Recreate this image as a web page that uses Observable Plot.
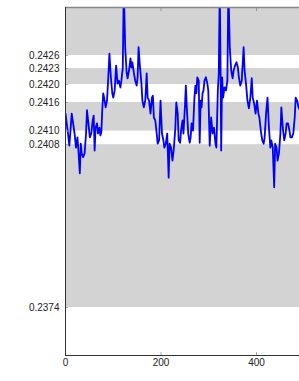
<!DOCTYPE html>
<html>
<head>
<meta charset="utf-8">
<script src="https://cdn.jsdelivr.net/npm/d3@7"></script>
<script src="https://cdn.jsdelivr.net/npm/@observablehq/plot@0.6"></script>
<style>
  html, body { margin: 0; padding: 0; background: #fff; overflow: hidden; }
  #chart svg { display: block; }
</style>
</head>
<body>
<div id="chart"></div>
<script>
// Series
const xs = [0,5,8,10,13,16,19,22,25,27,30,32,34,37,40,43,45,48,51,54,57,59,61,63,66,68,71,73,75,77,79,82,84,87,90,92,95,98,100,103,106,109,112,115,117,120,122,125,128,130,133,136,138,140,143,146,149,151,153,156,159,161,164,167,170,172,175,178,181,183,185,188,191,193,196,199,202,205,207,210,213,216,218,221,224,227,230,232,235,237,240,242,245,247,250,252,254,257,260,262,264,267,270,272,274,276,279,281,283,285,287,289,291,294,297,299,302,305,308,311,314,316,319,321,323,325,326,328,330,333,336,339,341,344,347,350,352,355,358,361,363,366,369,371,373,375,378,381,384,387,390,392,395,398,401,404,406,409,412,415,417,420,423,426,429,431,434,437,439,442,444,447,450,452,455,458,461,463,466,469,471,474,477,480,482,485,488,491];
const ys = [0.24140,0.24101,0.24074,0.24099,0.24140,0.24120,0.24099,0.24070,0.24091,0.24064,0.24017,0.24078,0.24058,0.24050,0.24058,0.24099,0.24147,0.24120,0.24091,0.24099,0.24126,0.24136,0.24064,0.24111,0.24120,0.24099,0.24111,0.24095,0.24101,0.24147,0.24182,0.24167,0.24153,0.24167,0.24223,0.24264,0.24215,0.24182,0.24173,0.24188,0.24239,0.24202,0.24208,0.24194,0.24208,0.24235,0.24404,0.24277,0.24225,0.24213,0.24229,0.24254,0.24235,0.24246,0.24225,0.24208,0.24198,0.24215,0.24277,0.24235,0.24202,0.24167,0.24153,0.24167,0.24223,0.24173,0.24167,0.24140,0.24173,0.24177,0.24132,0.24126,0.24099,0.24078,0.24085,0.24167,0.24099,0.24085,0.24070,0.24078,0.24099,0.24008,0.24078,0.24070,0.24043,0.24070,0.24111,0.24163,0.24140,0.24085,0.24080,0.24105,0.24126,0.24099,0.24153,0.24198,0.24153,0.24099,0.24080,0.24091,0.24120,0.24105,0.24173,0.24198,0.24182,0.24215,0.24208,0.24080,0.24167,0.24153,0.24182,0.24188,0.24208,0.24215,0.24202,0.24188,0.24074,0.24132,0.24099,0.24111,0.24078,0.24070,0.24188,0.24223,0.24404,0.24202,0.24064,0.24215,0.24173,0.24194,0.24188,0.24208,0.24404,0.24277,0.24229,0.24213,0.24229,0.24239,0.24246,0.24235,0.24215,0.24198,0.24208,0.24243,0.24277,0.24229,0.24202,0.24167,0.24151,0.24173,0.24213,0.24173,0.24161,0.24140,0.24167,0.24140,0.24132,0.24105,0.24085,0.24078,0.24091,0.24140,0.24173,0.24111,0.24070,0.24085,0.24070,0.23988,0.24078,0.24070,0.24043,0.24058,0.24099,0.24153,0.24111,0.24085,0.24099,0.24120,0.24120,0.24105,0.24091,0.24091,0.24099,0.24132,0.24173,0.24167,0.24153,0.24147];

// Axis ticks and labels
const yTickValues = [0.2426, 0.24233, 0.2420, 0.24163, 0.24104, 0.24076, 0.2374];
const yTickLabels = ["0.2426", "0.2423", "0.2420", "0.2416", "0.2410", "0.2408", "0.2374"];
const xTickValues = [0, 200, 400];
const xTickLabels = ["0", "200", "400"];
const xDomain = [0, 490];
const yDomain = [0.23641, 0.24359];

// Shaded bands between alternate tick pairs
const bandTop = [0.24359, 0.24233, 0.24163, 0.24076];
const bandBottom = [0.2426, 0.2420, 0.24104, 0.2374];

const series = xs.map((x, i) => ({x, y: ys[i]}));
const bands = bandTop.map((t, i) => ({y1: bandBottom[i], y2: t}));
const yLab = new Map(yTickValues.map((v, i) => [v, yTickLabels[i]]));
const xLab = new Map(xTickValues.map((v, i) => [v, xTickLabels[i]]));

const chart = Plot.plot({
  width: 299,
  height: 381,
  marginLeft: 65,
  marginRight: 0,
  marginTop: 7,
  marginBottom: 26,
  style: {fontFamily: "'Liberation Sans', Arial, sans-serif", fontSize: "10px", background: "#fff"},
  x: {domain: xDomain},
  y: {domain: yDomain},
  marks: [
    Plot.rect(bands, {y1: "y1", y2: "y2", fill: "#d3d3d3"}),
    Plot.line(series, {x: "x", y: "y", stroke: "#0000ff", strokeWidth: 1.8, clip: true}),
    Plot.axisY({ticks: yTickValues, tickFormat: d => yLab.get(d), tickSize: -3, tickPadding: 9, stroke: "#aaa", fill: "#222", fontSize: 10, label: null}),
    Plot.axisX({ticks: xTickValues, tickFormat: d => xLab.get(d), tickSize: -3, tickPadding: 6, stroke: "#aaa", fill: "#222", fontSize: 10, label: null}),
    Plot.axisX({anchor: "top", ticks: xTickValues.slice(1), tickFormat: () => "", tickSize: -3, tickPadding: 0, stroke: "#999", label: null}),
    Plot.ruleY([yDomain[1]], {stroke: "#888", strokeWidth: 1.5}),
    Plot.ruleX([xDomain[0]], {stroke: "#333", strokeWidth: 1}),
    Plot.ruleY([yDomain[0]], {stroke: "#333", strokeWidth: 1})
  ]
});
document.getElementById("chart").appendChild(chart);
</script>
</body>
</html>
